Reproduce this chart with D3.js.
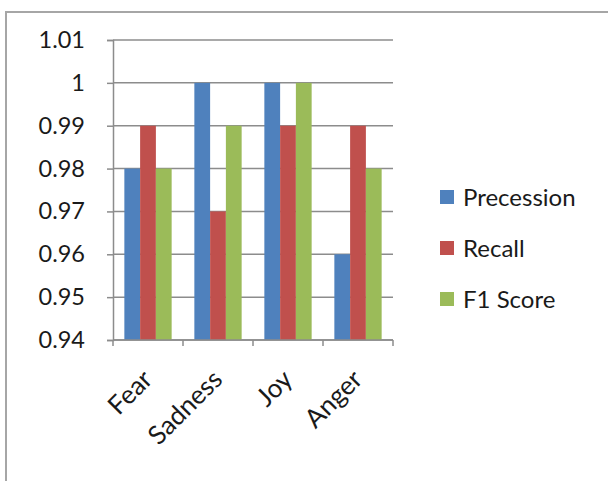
<!DOCTYPE html>
<html>
<head>
<meta charset="utf-8">
<script src="https://cdn.jsdelivr.net/npm/d3@7"></script>
<style>
  body { margin: 0; background: #fff; }
  svg text { font-family: Lato, "Open Sans", sans-serif; fill: #1a1a1a; }
</style>
</head>
<body>
<div id="chart"></div>
<script>
// Data
var categories = ['Fear', 'Sadness', 'Joy', 'Anger'];
var seriesNames = ['Precession', 'Recall', 'F1 Score'];
var precession = [0.98, 1.00, 1.00, 0.96];
var recall = [0.99, 0.97, 0.99, 0.99];
var f1Score = [0.98, 0.99, 1.00, 0.98];
var yTicks = [0.94, 0.95, 0.96, 0.97, 0.98, 0.99, 1, 1.01];
var colors = ['#4F81BD', '#C0504D', '#9BBB59'];

var width = 608, height = 481;

var svg = d3.select('#chart')
    .append('svg')
    .attr('width', width)
    .attr('height', height);

// Chart border (Excel style)
svg.append('rect')
    .attr('x', 6).attr('y', 12)
    .attr('width', 620).attr('height', 500)
    .attr('fill', 'none')
    .attr('stroke', '#a6a6a6')
    .attr('stroke-width', 2);

var plotLeft = 113, plotRight = 393, plotTop = 40, plotBottom = 340;

var rows = categories.map(function (c, i) {
    return { cat: c, vals: [precession[i], recall[i], f1Score[i]] };
});

// Scales
var x0 = d3.scaleBand()
    .domain(categories)
    .range([plotLeft, plotRight]);

var x1 = d3.scaleBand()
    .domain(d3.range(seriesNames.length))
    .range([0, x0.bandwidth()])
    .paddingOuter(0.72);

var y = d3.scaleLinear()
    .domain([0.94, 1.01])
    .range([plotBottom, plotTop]);

// Gridlines
svg.append('g')
    .selectAll('line')
    .data(yTicks)
    .enter().append('line')
    .attr('x1', plotLeft).attr('x2', plotRight)
    .attr('y1', function (d) { return y(d); })
    .attr('y2', function (d) { return y(d); })
    .attr('stroke', '#8c8c8c')
    .attr('stroke-width', 1.5);

// Bars
var groups = svg.append('g')
    .selectAll('g')
    .data(rows)
    .enter().append('g')
    .attr('transform', function (d) { return 'translate(' + x0(d.cat) + ',0)'; });

groups.selectAll('rect')
    .data(function (d) { return d.vals; })
    .enter().append('rect')
    .attr('x', function (d, i) { return x1(i); })
    .attr('width', x1.bandwidth())
    .attr('y', function (d) { return y(d); })
    .attr('height', function (d) { return y(0.94) - y(d); })
    .attr('fill', function (d, i) { return colors[i]; });

// Y axis
var yAxis = svg.append('g')
    .attr('transform', 'translate(' + plotLeft + ',0)')
    .call(d3.axisLeft(y).tickValues(yTicks).tickSize(6).tickPadding(22)
        .tickFormat(function (d) { return d3.format('')(+d.toFixed(2)); }));
yAxis.select('.domain').attr('stroke', '#8c8c8c').attr('stroke-width', 1.5);
yAxis.selectAll('.tick line').attr('stroke', '#8c8c8c').attr('stroke-width', 1.5);
yAxis.selectAll('text')
    .style('font-size', '23.5px')
    .attr('fill', '#1a1a1a')
    .style('font-family', 'Lato, sans-serif');

// X axis (ticks at category boundaries)
var xAxis = svg.append('g')
    .attr('transform', 'translate(0,' + plotBottom + ')');
xAxis.append('line')
    .attr('x1', plotLeft).attr('x2', plotRight)
    .attr('stroke', '#8c8c8c').attr('stroke-width', 1.5);
var bounds = categories.map(function (c) { return x0(c); }).concat([plotRight]);
xAxis.selectAll('.xt')
    .data(bounds)
    .enter().append('line')
    .attr('class', 'xt')
    .attr('x1', function (d) { return d; }).attr('x2', function (d) { return d; })
    .attr('y1', 0).attr('y2', 6)
    .attr('stroke', '#8c8c8c').attr('stroke-width', 1.5);

// Rotated category labels
xAxis.selectAll('.xl')
    .data(categories)
    .enter().append('text')
    .attr('class', 'xl')
    .attr('text-anchor', 'end')
    .attr('transform', function (d) {
        return 'translate(' + (x0(d) + x0.bandwidth() / 2 + 6) + ',41) rotate(-45)';
    })
    .style('font-size', '26px')
    .text(function (d) { return d; });

// Legend
var legend = svg.append('g')
    .selectAll('g')
    .data(seriesNames)
    .enter().append('g')
    .attr('transform', function (d, i) { return 'translate(440,' + (190 + i * 51) + ')'; });

legend.append('rect')
    .attr('width', 14).attr('height', 14)
    .attr('fill', function (d, i) { return colors[i]; });

legend.append('text')
    .attr('x', 23)
    .attr('y', 16)
    .style('font-size', '24px')
    .text(function (d) { return d; });
</script>
</body>
</html>
